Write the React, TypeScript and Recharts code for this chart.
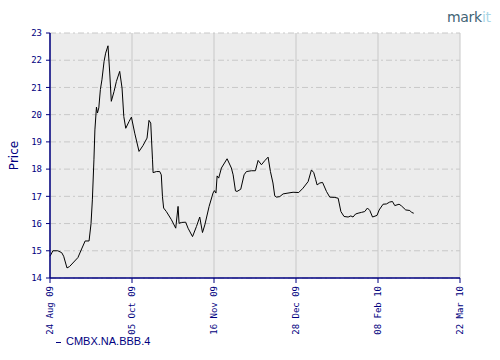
import React from "react";
import { LineChart, Line, XAxis, YAxis, CartesianGrid } from "recharts";

const days: number[] = [
  0, 1.5, 4, 6, 7, 8.7, 10, 14.3, 16.4, 18, 20, 21, 21.7, 22.5, 23, 23.8, 24.3, 25, 25.8, 26.6,
  27.7, 28.5, 29.7, 30.6, 31.4, 32.8, 34, 35.7, 36.9, 37.8, 38.8, 40.5, 41.7, 43.4, 45.6, 47.6,
  49.7, 50.7, 51.6, 52.5, 52.8, 54.5, 56.2, 57, 57.6, 58.2, 59.6, 62.2, 64.4, 65.6, 66.1, 67.3,
  69.5, 70.7, 73, 75, 76.7, 78.1, 79.3, 81.5, 83.5, 84.2, 85, 85.6, 86.4, 87.8, 90.7, 92.9, 93.8,
  95, 95.8, 97.7, 99.4, 100.6, 103.2, 105.2, 106.6, 108.3, 110, 111.7, 112.9, 114.2, 115.1, 116,
  117.7, 119.4, 121.9, 124.5, 127.4, 129.6, 132.2, 133.9, 135.1, 136.1, 136.8, 138.2, 139.6,
  141.6, 143.3, 145.9, 147.6, 149, 150.6, 152.7, 154.1, 155.2, 156.5, 157.8, 159.5, 161.2, 162.6,
  163.8, 165.2, 167.5, 168.6, 170.6, 172.3, 174, 175.4, 176.6, 178.8, 180, 182.2, 184.3, 185.2,
  186.3,
];

const prices: number[] = [
  14.8, 15.0, 15.0, 14.93, 14.8, 14.37, 14.42, 14.75, 15.1, 15.36, 15.36, 15.99, 16.87, 18.34,
  19.44, 20.28, 20.06, 20.25, 20.92, 21.28, 21.96, 22.26, 22.53, 21.53, 20.49, 20.85, 21.22,
  21.59, 20.98, 19.93, 19.5, 19.75, 19.91, 19.32, 18.65, 18.86, 19.14, 19.79, 19.69, 18.34, 17.87,
  17.91, 17.91, 17.79, 16.99, 16.57, 16.44, 16.14, 15.83, 16.63, 16.01, 16.04, 16.05, 15.83,
  15.52, 15.89, 16.24, 15.67, 15.95, 16.63, 17.12, 17.21, 17.12, 17.75, 17.67, 18.04, 18.38,
  18.04, 17.79, 17.2, 17.18, 17.26, 17.79, 17.91, 17.94, 17.94, 18.32, 18.16, 18.31, 18.44,
  17.91, 17.49, 17.02, 16.97, 16.99, 17.09, 17.12, 17.15, 17.14, 17.3, 17.54, 17.97, 17.87,
  17.61, 17.42, 17.49, 17.51, 17.18, 16.97, 16.96, 16.93, 16.44, 16.26, 16.24, 16.28, 16.24,
  16.35, 16.38, 16.41, 16.44, 16.57, 16.48, 16.24, 16.3, 16.5, 16.71, 16.72, 16.79, 16.81,
  16.66, 16.71, 16.65, 16.5, 16.48, 16.41, 16.38,
];

const xTicks: number[] = [0, 42, 84, 126, 168, 210];
const xTickLabels: string[] = ["24 Aug 09", "05 Oct 09", "16 Nov 09", "28 Dec 09", "08 Feb 10", "22 Mar 10"];
const yTicks: number[] = [14, 15, 16, 17, 18, 19, 20, 21, 22, 23];
const seriesName = "CMBX.NA.BBB.4";

const data = days.map((d, i) => ({ day: d, price: prices[i] }));

const NAVY = "#000080";
const MONO = "'DejaVu Sans Mono', monospace";

const XTick = (props: any) => {
  const { x, y, payload } = props;
  const idx = xTicks.indexOf(payload.value);
  return (
    <text
      x={x}
      y={y}
      transform={`rotate(-90, ${x}, ${y})`}
      textAnchor="end"
      dominantBaseline="central"
      fill={NAVY}
      fontSize={9}
      fontFamily={MONO}
    >
      {idx >= 0 ? xTickLabels[idx] : ""}
    </text>
  );
};

export default function App() {
  return (
    <div style={{ position: "absolute", left: 0, top: 0, width: 500, height: 360, background: "#fff" }}>
      <LineChart
        width={500}
        height={360}
        data={data}
        margin={{ top: 33, right: 40, left: 0, bottom: 22 }}
      >
        <CartesianGrid
          horizontal={true}
          vertical={false}
          fill="#ececec"
          stroke="#c8c8c8"
          strokeDasharray="6 3 2 3"
        />
        <CartesianGrid horizontal={false} vertical={true} stroke="#c8c8c8" />
        <XAxis
          type="number"
          dataKey="day"
          domain={[0, 210]}
          ticks={xTicks}
          interval={0}
          height={60}
          axisLine={{ stroke: NAVY, strokeWidth: 1.5 }}
          tickLine={{ stroke: NAVY }}
          tickSize={5}
          tickMargin={3}
          tick={<XTick />}
        />
        <YAxis
          type="number"
          domain={[14, 23]}
          ticks={yTicks}
          interval={0}
          width={50}
          axisLine={{ stroke: NAVY, strokeWidth: 1.5 }}
          tickLine={{ stroke: NAVY }}
          tickSize={4}
          tickMargin={4}
          tick={{ fill: NAVY, fontSize: 9, fontFamily: MONO }}
          label={{
            value: "Price",
            angle: -90,
            position: "insideLeft",
            dx: 9,
            fill: NAVY,
            fontSize: 12,
            fontFamily: "'DejaVu Sans', sans-serif",
            style: { textAnchor: "middle" },
          }}
        />
        <Line
          type="linear"
          dataKey="price"
          stroke="#000"
          strokeWidth={1}
          dot={false}
          isAnimationActive={false}
        />
      </LineChart>
      <div
        style={{
          position: "absolute",
          left: 447,
          top: 9,
          fontFamily: "'DejaVu Sans', sans-serif",
          fontSize: 14,
          letterSpacing: -0.3,
        }}
      >
        <span style={{ color: "#3f6475" }}>mark</span>
        <span style={{ color: "#a9d6e6" }}>it</span>
      </div>
      <div
        style={{
          position: "absolute",
          left: 56,
          top: 335,
          fontFamily: "'Liberation Sans', sans-serif",
          fontSize: 11,
          color: NAVY,
          whiteSpace: "nowrap",
        }}
      >
        <span style={{ display: "inline-block", width: 5, height: 1, background: NAVY, verticalAlign: "middle", marginRight: 5 }} />
        {seriesName}
      </div>
    </div>
  );
}
